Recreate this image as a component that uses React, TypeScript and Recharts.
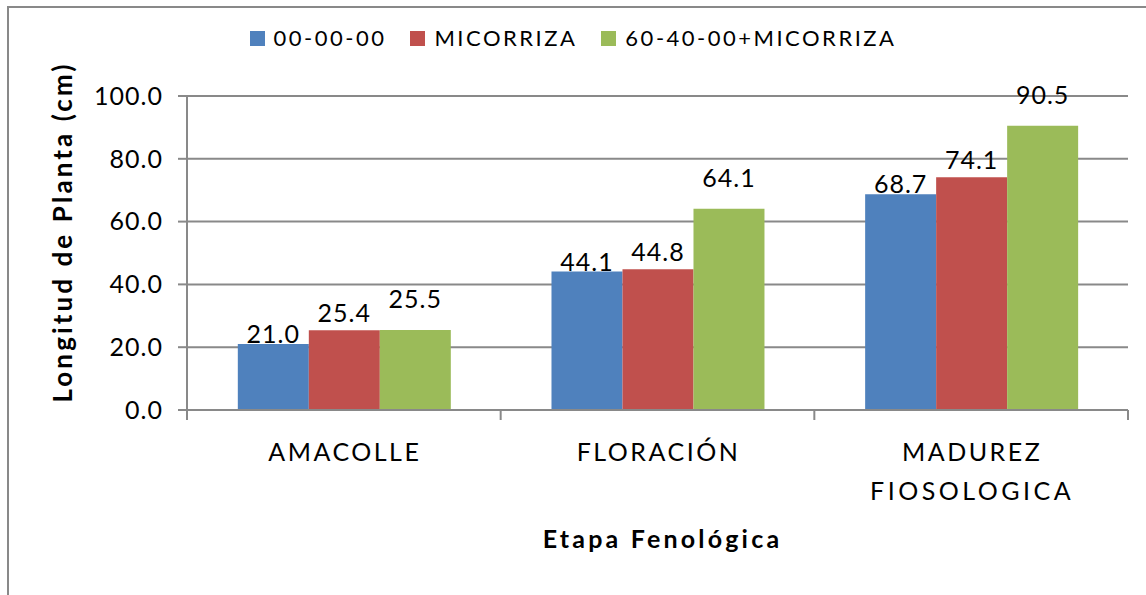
import React from 'react';
import { BarChart, Bar, XAxis, YAxis, CartesianGrid, Legend, LabelList } from 'recharts';

const categories = ['AMACOLLE', 'FLORACIÓN', 'MADUREZ FIOSOLOGICA'];
const seriesNames = ['00-00-00', 'MICORRIZA', '60-40-00+MICORRIZA'];
const control = [21.0, 44.1, 68.7];
const micorriza = [25.4, 44.8, 74.1];
const fertMicorriza = [25.5, 64.1, 90.5];
const yTicks = [0, 20, 40, 60, 80, 100];
const colors = ['#4F81BD', '#C0504D', '#9BBB59'];
const yTitle = 'Longitud de Planta (cm)';
const xTitle = 'Etapa Fenológica';

const data = categories.map((c, i) => ({
  cat: c,
  s0: control[i],
  s1: micorriza[i],
  s2: fertMicorriza[i],
}));

const FONT = 'Lato, "Open Sans", sans-serif';
const GRAY = '#898989';

const XTick = (props: any) => {
  const { x, y, payload, index, visibleTicksCount } = props;
  const half = payload && payload.offset ? payload.offset : 0;
  const lines = String(payload.value).split(' ');
  return (
    <g>
      <line x1={x - half} x2={x - half} y1={y - 10} y2={y} stroke={GRAY} strokeWidth={2} />
      {index === visibleTicksCount - 1 && (
        <line x1={x + half} x2={x + half} y1={y - 10} y2={y} stroke={GRAY} strokeWidth={2} />
      )}
      <text
        x={x + 1}
        y={y + 41}
        textAnchor="middle"
        fill="#000"
        style={{ fontFamily: FONT, fontSize: 25, letterSpacing: 2.5 }}
      >
        {lines.map((l, i) => (
          <tspan key={i} x={x + 1} dy={i === 0 ? 0 : 39} style={{ letterSpacing: i === 0 ? 2.5 : 3.5 }}>
            {l}
          </tspan>
        ))}
      </text>
    </g>
  );
};

const YTitle = (props: any) => {
  const vb = props.viewBox || { x: 0, y: 96, width: 187, height: 314 };
  const cx = vb.x + 62;
  const cy = vb.y + vb.height / 2 - 21;
  return (
    <text
      x={cx}
      y={cy}
      transform={`rotate(-90 ${cx} ${cy})`}
      textAnchor="middle"
      dominantBaseline="central"
      fill="#000"
      style={{ fontFamily: FONT, fontSize: 26, fontWeight: 700, letterSpacing: 3.1 }}
    >
      {yTitle}
    </text>
  );
};

const XTitle = (props: any) => {
  const vb = props.viewBox || { x: 187, y: 410, width: 941, height: 150 };
  const cx = vb.x + vb.width / 2 + 5;
  const cy = vb.y + 138;
  return (
    <text
      x={cx}
      y={cy}
      textAnchor="middle"
      fill="#000"
      style={{ fontFamily: FONT, fontSize: 25, fontWeight: 700, letterSpacing: 3.2 }}
    >
      {xTitle}
    </text>
  );
};

const LegendContent = () => {
  return (
    <div
      style={{
        display: 'flex',
        justifyContent: 'center',
        alignItems: 'center',
        gap: 24,
        fontFamily: FONT,
        fontSize: 22,
        letterSpacing: 2.5,
        color: '#000',
      }}
    >
      {seriesNames.map((name, i) => (
        <div key={i} style={{ display: 'flex', alignItems: 'center' }}>
          <span style={{ display: 'inline-block', width: 15, height: 15, background: colors[i], marginRight: 9 }} />
          <span style={{ lineHeight: '26px' }}>{name}</span>
        </div>
      ))}
    </div>
  );
};

export default function App() {
  return (
    <div
      style={{
        position: 'fixed',
        left: 0,
        top: 0,
        width: 1146,
        height: 595,
        overflow: 'hidden',
        background: '#fff',
      }}
    >
      <div
        style={{
          position: 'absolute',
          left: 7,
          top: 6,
          width: 1300,
          height: 800,
          border: `2px solid ${GRAY}`,
        }}
      />
      <div style={{ position: 'absolute', left: 0, top: 0 }}>
        <BarChart
          width={1146}
          height={595}
          data={data}
          margin={{ top: 96, right: 18, bottom: 35, left: 0 }}
          barCategoryGap="16.2%"
          barGap={0}
        >
          <CartesianGrid vertical={false} stroke={GRAY} strokeWidth={2} />
          <XAxis
            dataKey="cat"
            height={150}
            tickLine={false}
            tickSize={10}
            tickMargin={0}
            interval={0}
            axisLine={{ stroke: GRAY, strokeWidth: 2 }}
            tick={<XTick />}
            label={<XTitle />}
          />
          <YAxis
            width={187}
            domain={[0, 100]}
            ticks={yTicks}
            interval={0}
            tickSize={9}
            tickMargin={15}
            tickFormatter={(v: number) => v.toFixed(1)}
            axisLine={{ stroke: GRAY, strokeWidth: 2 }}
            tickLine={{ stroke: GRAY, strokeWidth: 2 }}
            tick={{ fill: '#000', fontFamily: FONT, fontSize: 25, letterSpacing: 1 }}
            label={<YTitle />}
          />
          <Legend
            verticalAlign="middle"
            align="center"
            layout="horizontal"
            wrapperStyle={{ top: 25, left: 0, width: 1146 }}
            content={<LegendContent />}
          />
          <Bar dataKey="s0" name={seriesNames[0]} fill={colors[0]} isAnimationActive={false}>
            <LabelList
              dataKey="s0"
              position="top"
              offset={1}
              formatter={(v: any) => Number(v).toFixed(1)}
              style={{ fill: '#000', fontFamily: FONT, fontSize: 25, letterSpacing: 1 }}
            />
          </Bar>
          <Bar dataKey="s1" name={seriesNames[1]} fill={colors[1]} isAnimationActive={false}>
            <LabelList
              dataKey="s1"
              position="top"
              offset={8}
              formatter={(v: any) => Number(v).toFixed(1)}
              style={{ fill: '#000', fontFamily: FONT, fontSize: 25, letterSpacing: 1 }}
            />
          </Bar>
          <Bar dataKey="s2" name={seriesNames[2]} fill={colors[2]} isAnimationActive={false}>
            <LabelList
              dataKey="s2"
              position="top"
              offset={22}
              formatter={(v: any) => Number(v).toFixed(1)}
              style={{ fill: '#000', fontFamily: FONT, fontSize: 25, letterSpacing: 1 }}
            />
          </Bar>
        </BarChart>
      </div>
    </div>
  );
}
